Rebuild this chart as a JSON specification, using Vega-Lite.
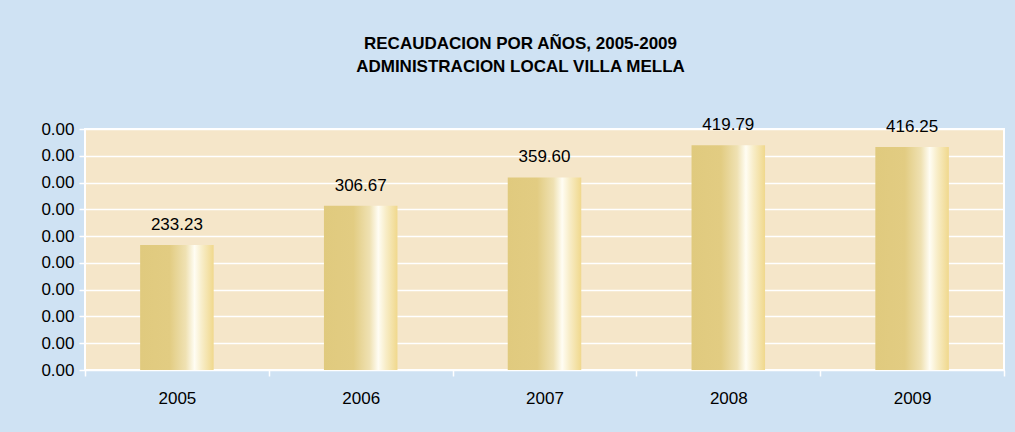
{
  "$schema": "https://vega.github.io/schema/vega-lite/v6.json",
  "autosize": {"type": "none"},
  "padding": {"left": 85, "top": 129, "right": 11, "bottom": 62},
  "width": 919,
  "height": 241,
  "background": "#cfe2f3",
  "title": {
    "text": ["RECAUDACION POR AÑOS, 2005-2009", "ADMINISTRACION LOCAL VILLA MELLA"],
    "font": "Liberation Sans",
    "fontSize": 17,
    "fontWeight": "bold",
    "color": "#000000",
    "lineHeight": 23,
    "anchor": "middle",
    "dx": -24,
    "offset": 40
  },
  "config": {
    "view": {"fill": "#f5e6c9", "stroke": "#ffffff", "strokeWidth": 2},
    "axis": {"labelFont": "Liberation Sans", "labelColor": "#000000"}
  },
  "data": {
    "values": [
      {"year": "2005", "value": 233.23},
      {"year": "2006", "value": 306.67},
      {"year": "2007", "value": 359.60},
      {"year": "2008", "value": 419.79},
      {"year": "2009", "value": 416.25}
    ]
  },
  "encoding": {
    "x": {
      "field": "year",
      "type": "ordinal",
      "scale": {"paddingInner": 0, "paddingOuter": 0},
      "axis": {
        "title": null,
        "labelAngle": 0,
        "labelFontSize": 17,
        "labelPadding": 14,
        "tickBand": "extent",
        "tickColor": "#ffffff",
        "tickSize": 6,
        "tickWidth": 1.5,
        "domain": false,
        "grid": false
      }
    },
    "y": {
      "field": "value",
      "type": "quantitative",
      "scale": {"domain": [0, 450], "nice": false},
      "axis": {
        "title": null,
        "values": [0, 50, 100, 150, 200, 250, 300, 350, 400, 450],
        "labelExpr": "'0.00'",
        "labelFontSize": 17,
        "labelPadding": 5,
        "tickColor": "#ffffff",
        "tickSize": 6,
        "tickWidth": 1.5,
        "domain": false,
        "grid": true,
        "gridColor": "#ffffff",
        "gridWidth": 1.5,
        "gridOpacity": 1
      }
    }
  },
  "layer": [
    {
      "mark": {
        "type": "bar",
        "width": {"band": 0.4},
        "color": {
          "gradient": "linear",
          "x1": 0, "y1": 0, "x2": 1, "y2": 0,
          "stops": [
            {"offset": 0, "color": "#e0ca7e"},
            {"offset": 0.4, "color": "#e2cc82"},
            {"offset": 0.62, "color": "#efe1b2"},
            {"offset": 0.74, "color": "#fffdf3"},
            {"offset": 0.84, "color": "#f8edc8"},
            {"offset": 1, "color": "#f0d88c"}
          ]
        }
      }
    },
    {
      "mark": {
        "type": "text",
        "baseline": "bottom",
        "dy": -11,
        "font": "Liberation Sans",
        "fontSize": 17,
        "color": "#000000"
      },
      "encoding": {
        "text": {"field": "value", "type": "quantitative", "format": ".2f"}
      }
    }
  ]
}
